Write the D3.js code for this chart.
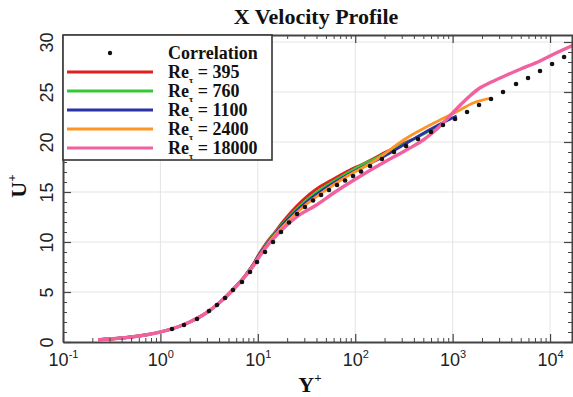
<!DOCTYPE html>
<html>
<head>
<meta charset="utf-8">
<script src="https://cdn.jsdelivr.net/npm/d3@7/dist/d3.min.js"></script>
<style>
  body { margin: 0; background: #fff; }
  svg { display: block; font-family: "Liberation Serif", "DejaVu Serif", serif; }
</style>
</head>
<body>
<svg id="chart" width="573" height="397"></svg>
<script>
// correlation (dots)
const corrY = [1.315, 1.747, 2.376, 3.155, 3.81, 4.61, 5.56, 6.88, 8.32, 9.81, 11.86, 14.32, 17.3, 20.9, 25.3, 30.5, 36.9, 44.6, 53.8, 65.0, 78.6, 94.9, 114.7, 142, 188, 250, 333, 441, 600, 796, 1059, 1406, 1866, 2478, 3290, 4477, 5943, 7888, 10490, 13930];
const corrU = [1.3, 1.7, 2.3, 3.1, 3.7, 4.4, 5.2, 6.0, 7.0, 8.0, 9.0, 10.0, 11.0, 11.95, 12.8, 13.5, 14.15, 14.7, 15.2, 15.7, 16.15, 16.6, 17.05, 17.6, 18.3, 19.0, 19.6, 20.3, 21.0, 21.7, 22.3, 23.0, 23.7, 24.3, 25.0, 25.8, 26.4, 27.1, 27.8, 28.5];

// DNS / LES profiles
const re395Y = [0.23, 0.3, 0.4, 0.5, 0.7, 1, 1.5, 2, 3, 4, 5, 6, 7, 8, 9, 10, 12, 15, 18, 22, 29, 40, 55, 88, 120, 180, 260, 395];
const re395U = [0.23, 0.3, 0.4, 0.5, 0.7, 1, 1.5, 2, 2.95, 3.9, 4.8, 5.6, 6.35, 7.1, 7.8, 8.6, 9.8, 11.0, 12.0, 13.0, 14.2, 15.3, 16.1, 17.2, 17.8, 18.7, 19.5, 20.3];
const re760Y = [0.23, 0.3, 0.4, 0.5, 0.7, 1, 1.5, 2, 3, 4, 5, 6, 7, 8, 9, 10, 12, 15, 20, 30, 50, 80, 112, 150, 250, 400, 600, 760];
const re760U = [0.23, 0.3, 0.4, 0.5, 0.7, 1, 1.5, 2, 2.95, 3.9, 4.8, 5.6, 6.3, 7.05, 7.75, 8.5, 9.7, 10.9, 12.3, 14.0, 15.6, 16.8, 17.6, 18.2, 19.3, 20.3, 21.2, 21.8];
const re1100Y = [0.23, 0.3, 0.4, 0.5, 0.7, 1, 1.5, 2, 3, 4, 5, 6, 7, 8, 9, 10, 12, 15, 20, 30, 50, 80, 132, 200, 338, 600, 900, 1100];
const re1100U = [0.23, 0.3, 0.4, 0.5, 0.7, 1, 1.5, 2, 2.95, 3.9, 4.8, 5.6, 6.3, 7.05, 7.75, 8.5, 9.6, 10.8, 12.2, 13.8, 15.4, 16.6, 17.7, 18.6, 19.9, 21.3, 22.2, 22.6];
const re2400Y = [0.23, 0.3, 0.4, 0.5, 0.7, 1, 1.5, 2, 3, 4, 5, 6, 7, 8, 9, 10, 12, 15, 20, 30, 50, 80, 151, 338, 741, 1190, 1620, 2040, 2540];
const re2400U = [0.23, 0.3, 0.4, 0.5, 0.7, 1, 1.5, 2, 2.95, 3.9, 4.75, 5.55, 6.3, 7.0, 7.7, 8.4, 9.5, 10.7, 12.0, 13.6, 15.2, 16.5, 18.0, 20.4, 22.2, 23.2, 23.9, 24.2, 24.4];
const re18000Y = [0.23, 0.3, 0.4, 0.5, 0.7, 1, 1.5, 2, 3, 4, 5, 6, 7, 8, 9, 10, 12, 15, 18, 25, 40, 60, 105, 227, 350, 498, 600, 800, 1000, 1200, 1500, 1900, 2500, 3600, 5000, 7900, 11000, 14900, 17500];
const re18000U = [0.23, 0.3, 0.4, 0.5, 0.7, 1, 1.5, 2, 2.95, 3.9, 4.75, 5.55, 6.25, 6.95, 7.6, 8.3, 9.4, 10.5, 11.3, 12.5, 13.7, 14.9, 16.4, 18.3, 19.3, 20.2, 20.8, 21.9, 22.9, 23.7, 24.6, 25.4, 26.0, 26.7, 27.3, 28.1, 28.8, 29.4, 29.7];

const seriesNames = ["395", "760", "1100", "2400", "18000"];
const seriesColors = ["#e0201c", "#35c835", "#2a32a6", "#ff9326", "#f2619f"];
const seriesY = [re395Y, re760Y, re1100Y, re2400Y, re18000Y];
const seriesU = [re395U, re760U, re1100U, re2400U, re18000U];

const xMajor = [0.1, 1, 10, 100, 1000, 10000];
const xExp = ["-1", "0", "1", "2", "3", "4"];
const yMajor = [0, 5, 10, 15, 20, 25, 30];

const svg = d3.select("#chart");
const margin = { top: 35, left: 63, right: 572, bottom: 342 };

const x = d3.scaleLog().domain([0.1, 17200]).range([margin.left, 573]);
const y = d3.scaleLinear().domain([0, 30.7]).range([margin.bottom, margin.top]);

// minor tick values on log axis
const xMinor = [];
for (const d of [0.1, 1, 10, 100, 1000, 10000]) {
    for (let k = 2; k <= 9; k++) if (d * k < 17200) xMinor.push(d * k);
}
const yMinor = d3.range(0, 31).filter(v => v % 5 !== 0);

// grid
const grid = svg.append("g").attr("stroke", "#e4e4e4").attr("stroke-width", 1);
grid.selectAll("line.v").data(xMajor.slice(1)).enter().append("line")
    .attr("x1", d => x(d)).attr("x2", d => x(d))
    .attr("y1", margin.top).attr("y2", margin.bottom);
grid.selectAll("line.h").data(yMajor.slice(1)).enter().append("line")
    .attr("x1", margin.left).attr("x2", 573)
    .attr("y1", d => y(d)).attr("y2", d => y(d));

// series lines
svg.append("clipPath").attr("id", "clip").append("rect")
    .attr("x", margin.left).attr("y", margin.top)
    .attr("width", 573 - margin.left).attr("height", margin.bottom - margin.top);

const line = d3.line()
    .x(d => x(d[0]))
    .y(d => y(d[1]))
    .curve(d3.curveMonotoneX);

const lines = svg.append("g").attr("clip-path", "url(#clip)");
seriesY.forEach((ys, i) => {
    const pts = ys.map((v, j) => [v, seriesU[i][j]]);
    lines.append("path")
        .datum(pts)
        .attr("fill", "none")
        .attr("stroke", seriesColors[i])
        .attr("stroke-width", i === 4 ? 3.4 : 2.8)
        .attr("stroke-linejoin", "round")
        .attr("d", line);
});

// correlation dots
lines.selectAll("circle")
    .data(corrY.map((v, j) => [v, corrU[j]]))
    .enter()
    .append("circle")
    .attr("cx", d => x(d[0]))
    .attr("cy", d => y(d[1]))
    .attr("r", 2.3)
    .attr("fill", "#111");

// axes
const axisColor = "#444";
function styleAxis(g) {
    g.select(".domain").attr("stroke", axisColor).attr("stroke-width", 2);
    g.selectAll(".tick line").attr("stroke", axisColor).attr("stroke-width", 1.2);
}
function minorAxis(g) {
    g.select(".domain").remove();
    g.selectAll(".tick line").attr("stroke", axisColor);
}

const bottomMajor = svg.append("g")
    .attr("transform", `translate(0, ${margin.bottom})`)
    .call(d3.axisBottom(x).tickValues(xMajor).tickSizeInner(-8).tickSizeOuter(0).tickFormat(() => ""));
styleAxis(bottomMajor);
svg.append("g")
    .attr("transform", `translate(0, ${margin.bottom})`)
    .call(d3.axisBottom(x).tickValues(xMinor).tickSizeInner(-4).tickSizeOuter(0).tickFormat(() => ""))
    .call(minorAxis);

bottomMajor.selectAll(".tick").append("text")
    .attr("fill", "#222")
    .attr("y", 24)
    .attr("text-anchor", "middle")
    .style("font-size", "18px")
    .each(function(d, i) {
        const t = d3.select(this);
        t.append("tspan").text("10");
        t.append("tspan").attr("dy", -8).style("font-size", "11px").text(xExp[i]);
    });

const topMajor = svg.append("g")
    .attr("transform", `translate(0, ${margin.top})`)
    .call(d3.axisTop(x).tickValues(xMajor).tickSizeInner(-8).tickSizeOuter(0).tickFormat(() => ""));
styleAxis(topMajor);
svg.append("g")
    .attr("transform", `translate(0, ${margin.top})`)
    .call(d3.axisTop(x).tickValues(xMinor).tickSizeInner(-4).tickSizeOuter(0).tickFormat(() => ""))
    .call(minorAxis);

const leftMajor = svg.append("g")
    .attr("transform", `translate(${margin.left}, 0)`)
    .call(d3.axisLeft(y).tickValues(yMajor).tickSizeInner(-8).tickSizeOuter(0).tickFormat(() => ""));
styleAxis(leftMajor);
svg.append("g")
    .attr("transform", `translate(${margin.left}, 0)`)
    .call(d3.axisLeft(y).tickValues(yMinor).tickSizeInner(-4).tickSizeOuter(0).tickFormat(() => ""))
    .call(minorAxis);

leftMajor.selectAll(".tick").append("text")
    .attr("fill", "#222")
    .attr("transform", "translate(-10, 0) rotate(-90)")
    .attr("text-anchor", "middle")
    .style("font-size", "18px")
    .text(d => d);

const rightMajor = svg.append("g")
    .attr("transform", `translate(${margin.right}, 0)`)
    .call(d3.axisRight(y).tickValues(yMajor).tickSizeInner(-8).tickSizeOuter(0).tickFormat(() => ""));
styleAxis(rightMajor);
svg.append("g")
    .attr("transform", `translate(${margin.right}, 0)`)
    .call(d3.axisRight(y).tickValues(yMinor).tickSizeInner(-4).tickSizeOuter(0).tickFormat(() => ""))
    .call(minorAxis);

// title and axis labels
svg.append("text")
    .attr("x", 316).attr("y", 24)
    .attr("text-anchor", "middle")
    .style("font-size", "22px").style("font-weight", "bold")
    .attr("fill", "#111")
    .text("X Velocity Profile");

const xLab = svg.append("text")
    .attr("x", 310).attr("y", 392)
    .attr("text-anchor", "middle")
    .style("font-size", "22px").style("font-weight", "bold")
    .attr("fill", "#111");
xLab.append("tspan").text("Y");
xLab.append("tspan").attr("dy", -10).style("font-size", "13px").text("+");

const yLab = svg.append("text")
    .attr("transform", "translate(26, 186) rotate(-90)")
    .attr("text-anchor", "middle")
    .style("font-size", "22px").style("font-weight", "bold")
    .attr("fill", "#111");
yLab.append("tspan").text("U");
yLab.append("tspan").attr("dy", -10).style("font-size", "13px").text("+");

// legend
const legend = svg.append("g");
legend.append("rect")
    .attr("x", margin.left).attr("y", margin.top)
    .attr("width", 209).attr("height", 125)
    .attr("fill", "#fff").attr("stroke", "#333").attr("stroke-width", 1.6);
legend.append("circle").attr("cx", 110).attr("cy", 53).attr("r", 2.2).attr("fill", "#111");
legend.append("text")
    .attr("x", 168).attr("y", 59)
    .style("font-size", "18px").style("font-weight", "bold")
    .attr("fill", "#111")
    .text("Correlation");

const items = legend.selectAll("g.item")
    .data(seriesNames)
    .enter()
    .append("g")
    .attr("transform", (d, i) => `translate(0, ${72 + i * 19})`);
items.append("line")
    .attr("x1", 67).attr("x2", 153)
    .attr("stroke", (d, i) => seriesColors[i])
    .attr("stroke-width", 3);
const lt = items.append("text")
    .attr("x", 168).attr("y", 6)
    .style("font-size", "18px").style("font-weight", "bold")
    .attr("fill", "#111");
lt.append("tspan").text("Re");
lt.append("tspan").attr("dy", 5).style("font-size", "9px").text("τ");
lt.append("tspan").attr("dy", -5).text(d => " = " + d);
</script>
</body>
</html>
